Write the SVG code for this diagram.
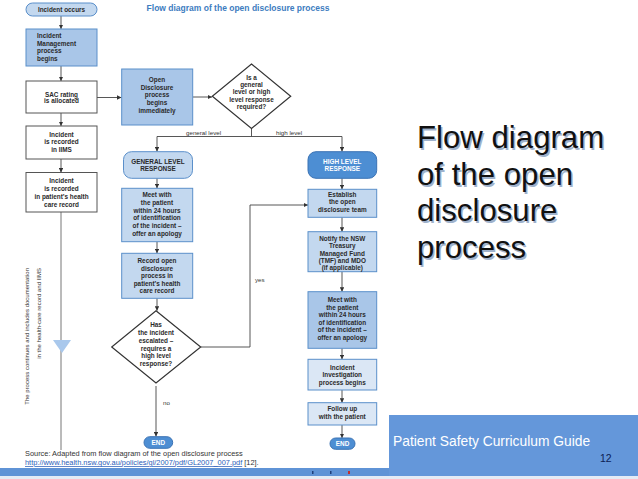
<svg xmlns="http://www.w3.org/2000/svg" width="638" height="479" viewBox="0 0 638 479">
<defs>
<style>
.t{font-family:"Liberation Sans",Arial,sans-serif;font-size:6.4px;font-weight:bold;fill:#2a2a2a;text-anchor:middle}
.tl{text-anchor:start}
.tw{fill:#ffffff}
.mid{fill:#a9c6e8;stroke:#5a8fca;stroke-width:1}
.lt{fill:#c3d8ef;stroke:#5a8fca;stroke-width:1}
.pale{fill:#dbe7f5;stroke:#5a8fca;stroke-width:1}
.wb{fill:#ffffff;stroke:#555555;stroke-width:1}
.dk{fill:#4d8ed3;stroke:#3a72b4;stroke-width:1}
.dia{fill:#ffffff;stroke:#333333;stroke-width:1.2}
.c{fill:none;stroke:#444444;stroke-width:0.9}
.lab{font-family:"Liberation Sans",Arial,sans-serif;font-size:6.2px;fill:#333333}
.big{font-family:"Liberation Sans",Arial,sans-serif;font-size:31.2px;fill:#111111}
.bigs{font-family:"Liberation Sans",Arial,sans-serif;font-size:31.2px;fill:#9fb2cc}
.src{font-family:"Liberation Sans",Arial,sans-serif;font-size:7.4px;fill:#333333}
</style>
<marker id="ah" viewBox="0 0 6 6" refX="6" refY="3" markerWidth="4.5" markerHeight="4.5" markerUnits="userSpaceOnUse" orient="auto">
<path d="M0,0 L6,3 L0,6 z" fill="#333333"/>
</marker>
</defs>
<rect x="0" y="0" width="638" height="479" fill="#ffffff"/>

<!-- title of embedded diagram -->
<text x="238" y="11" style="font-family:'Liberation Sans',Arial,sans-serif;font-size:8.5px;font-weight:bold;fill:#3d7cc0;text-anchor:middle">Flow diagram of the open disclosure process</text>

<g id="connectors">
<path class="c" d="M61,16 V29" marker-end="url(#ah)"/>
<path class="c" d="M61,66 V81" marker-end="url(#ah)"/>
<path class="c" d="M97,97.5 H121.5" marker-end="url(#ah)"/>
<path class="c" d="M61,113 V126" marker-end="url(#ah)"/>
<path class="c" d="M61,159 V172.5" marker-end="url(#ah)"/>
<path class="c" d="M61,212 V450" style="stroke:#666666"/>
<path class="c" d="M193,97 H212" marker-end="url(#ah)"/>
<path class="c" d="M251.5,128.5 V136.5 M157,136.5 H342"/>
<path class="c" d="M157,136.5 V151.5" marker-end="url(#ah)"/>
<path class="c" d="M342,136.5 V151.5" marker-end="url(#ah)"/>
<path class="c" d="M157,178.3 V188.3" marker-end="url(#ah)"/>
<path class="c" d="M157,241.7 V253.3" marker-end="url(#ah)"/>
<path class="c" d="M157,298.3 V310.7" marker-end="url(#ah)"/>
<path class="c" d="M200.7,347 H250 V205 H308" marker-end="url(#ah)"/>
<path class="c" d="M156,386 V436.5" marker-end="url(#ah)"/>
<path class="c" d="M342,178.3 V189.3" marker-end="url(#ah)"/>
<path class="c" d="M342,217.3 V231.7" marker-end="url(#ah)"/>
<path class="c" d="M342,271.7 V291.7" marker-end="url(#ah)"/>
<path class="c" d="M342,348.3 V359.3" marker-end="url(#ah)"/>
<path class="c" d="M342,390 V402.7" marker-end="url(#ah)"/>
<path class="c" d="M342,425 V438" marker-end="url(#ah)"/>
<text class="lab" x="186" y="134.5">general level</text>
<text class="lab" x="276" y="134.5">high level</text>
<text class="lab" x="255" y="282">yes</text>
<text class="lab" x="163" y="405">no</text>
<polygon points="53,340 71,340 62,353" fill="#a9c8ec"/>
</g>

<g id="incident-occurs">
<rect class="lt" x="26" y="3" width="71" height="13" rx="6.5"/>
<text class="t" x="61.5" y="11.8">Incident occurs</text>
</g>
<g id="incident-management">
<rect class="mid" x="26" y="29" width="71" height="37"/>
<text class="t tl" x="37" y="38">Incident</text>
<text class="t tl" x="37" y="45.6">Management</text>
<text class="t tl" x="37" y="53.3">process</text>
<text class="t tl" x="37" y="60.6">begins</text>
</g>
<g id="sac-rating">
<rect class="wb" x="26" y="81" width="71" height="32"/>
<text class="t" x="61.5" y="96.6">SAC rating</text>
<text class="t" x="61.5" y="103.3">is allocated</text>
</g>
<g id="recorded-iims">
<rect class="wb" x="26" y="126" width="71" height="33"/>
<text class="t" x="61.5" y="137.3">Incident</text>
<text class="t" x="61.5" y="144">is recorded</text>
<text class="t" x="61.5" y="152.3">in IIMS</text>
</g>
<g id="recorded-health">
<rect class="wb" x="26" y="172.5" width="71" height="39.5"/>
<text class="t" x="61.5" y="183">Incident</text>
<text class="t" x="61.5" y="190.6">is recorded</text>
<text class="t" x="61.5" y="199">in patient’s health</text>
<text class="t" x="61.5" y="206.6">care record</text>
</g>
<g id="continues-note">
<text class="lab" style="font-size:6px;text-anchor:end" transform="translate(29,268) rotate(-90)">The process continues and includes documentation</text>
<text class="lab" style="font-size:6px;text-anchor:end" transform="translate(41,268) rotate(-90)">in the health-care record and IIMS</text>
</g>

<g id="open-disclosure-begins">
<rect class="mid" x="121.7" y="69" width="71" height="56"/>
<text class="t" x="157" y="82.3">Open</text>
<text class="t" x="157" y="89.6">Disclosure</text>
<text class="t" x="157" y="97.3">process</text>
<text class="t" x="157" y="105">begins</text>
<text class="t" x="157" y="112.6">immediately</text>
</g>
<g id="level-decision">
<polygon class="dia" points="251.5,64 290.7,96.3 251.5,128.5 212.3,96.3"/>
<text class="t" x="251.5" y="79.6">Is a</text>
<text class="t" x="251.5" y="86.6">general</text>
<text class="t" x="251.5" y="94">level or high</text>
<text class="t" x="251.5" y="101.6">level response</text>
<text class="t" x="251.5" y="109.3">required?</text>
</g>

<g id="general-response">
<rect class="lt" x="123.5" y="151.7" width="69" height="26.6" rx="8"/>
<text class="t" x="158" y="164">GENERAL LEVEL</text>
<text class="t" x="158" y="171.3">RESPONSE</text>
</g>
<g id="general-meet">
<rect class="lt" x="121.7" y="188.3" width="71" height="53.4"/>
<text class="t" x="157" y="197.3">Meet with</text>
<text class="t" x="157" y="205">the patient</text>
<text class="t" x="157" y="212.6">within 24 hours</text>
<text class="t" x="157" y="220.3">of identification</text>
<text class="t" x="157" y="228">of the incident –</text>
<text class="t" x="157" y="235.6">offer an apology</text>
</g>
<g id="general-record">
<rect class="lt" x="121.7" y="253.3" width="71" height="45"/>
<text class="t" x="157" y="263">Record open</text>
<text class="t" x="157" y="270.6">disclosure</text>
<text class="t" x="157" y="278.3">process in</text>
<text class="t" x="157" y="285.6">patient’s health</text>
<text class="t" x="157" y="293.3">care record</text>
</g>
<g id="escalated-decision">
<polygon class="dia" points="156,310.7 200.7,347 156,383 111.7,347"/>
<text class="t" x="156" y="327.3">Has</text>
<text class="t" x="156" y="335">the incident</text>
<text class="t" x="156" y="342.6">escalated –</text>
<text class="t" x="156" y="350.6">requires a</text>
<text class="t" x="156" y="358.3">high level</text>
<text class="t" x="156" y="365.6">response?</text>
</g>
<g id="end-general">
<rect class="dk" x="144" y="436.7" width="28.7" height="11.6" rx="5.8"/>
<text class="t tw" x="158.3" y="444.8">END</text>
</g>

<g id="high-response">
<rect class="dk" x="308" y="151.7" width="68.7" height="26.6" rx="8"/>
<text class="t tw" x="342.3" y="164">HIGH LEVEL</text>
<text class="t tw" x="342.3" y="171.3">RESPONSE</text>
</g>
<g id="establish-team">
<rect class="lt" x="308" y="189.3" width="68.7" height="28"/>
<text class="t" x="342.3" y="197.3">Establish</text>
<text class="t" x="342.3" y="204">the open</text>
<text class="t" x="342.3" y="211.6">disclosure team</text>
</g>
<g id="notify-tmf">
<rect class="lt" x="308" y="231.7" width="68.7" height="40"/>
<text class="t" x="342.3" y="241.3">Notify the NSW</text>
<text class="t" x="342.3" y="248.3">Treasury</text>
<text class="t" x="342.3" y="255.6">Managed Fund</text>
<text class="t" x="342.3" y="263">(TMF) and MDO</text>
<text class="t" x="342.3" y="270">(if applicable)</text>
</g>
<g id="high-meet">
<rect class="mid" x="308" y="291.7" width="68.7" height="56.6"/>
<text class="t" x="342.3" y="302.3">Meet with</text>
<text class="t" x="342.3" y="309.6">the patient</text>
<text class="t" x="342.3" y="317.3">within 24 hours</text>
<text class="t" x="342.3" y="325">of identification</text>
<text class="t" x="342.3" y="332.3">of the incident –</text>
<text class="t" x="342.3" y="340">offer an apology</text>
</g>
<g id="investigation">
<rect class="pale" x="308" y="359.3" width="68.7" height="30.7"/>
<text class="t" x="342.3" y="369.6">Incident</text>
<text class="t" x="342.3" y="377.3">Investigation</text>
<text class="t" x="342.3" y="385">process begins</text>
</g>
<g id="follow-up">
<rect class="pale" x="308" y="402.7" width="68.7" height="22.3"/>
<text class="t" x="342.3" y="410.6">Follow up</text>
<text class="t" x="342.3" y="419">with the patient</text>
</g>
<g id="end-high">
<rect class="dk" x="330" y="438" width="25" height="11.3" rx="5.6"/>
<text class="t tw" x="342.5" y="446">END</text>
</g>

<g id="source">
<text class="src" x="25" y="456">Source: Adapted from flow diagram of the open disclosure process</text>
<text class="src" x="25" y="465"><tspan fill="#2a5db8" text-decoration="underline">http://www.health.nsw.gov.au/policies/gl/2007/pdf/GL2007_007.pdf</tspan> [12].</text>
</g>

<g id="footer">
<rect x="0" y="468" width="390" height="8" fill="#5f93d6"/>
<rect x="0" y="476" width="638" height="3" fill="#e4ebf5"/>
<rect x="389" y="415" width="249" height="61" fill="#6497da"/>
<rect x="312" y="471" width="1.5" height="3" fill="#1f3f7a"/>
<rect x="330" y="471" width="1.5" height="3" fill="#1f3f7a"/>
<rect x="348" y="471" width="2" height="3" fill="#c03030"/>
<text x="393" y="446" style="font-family:'Liberation Sans',Arial,sans-serif;font-size:13.8px;fill:#ffffff">Patient Safety Curriculum Guide</text>
<text x="600" y="462" style="font-family:'Liberation Sans',Arial,sans-serif;font-size:10.5px;fill:#0c1d52">12</text>
</g>

<g id="slide-title">
<text class="bigs" x="418.5" y="149.5">Flow diagram</text>
<text class="bigs" x="418.5" y="186.5">of the open</text>
<text class="bigs" x="418.5" y="222.5">disclosure</text>
<text class="bigs" x="418.5" y="259.5">process</text>
<text class="big" x="417" y="148">Flow diagram</text>
<text class="big" x="417" y="185">of the open</text>
<text class="big" x="417" y="221">disclosure</text>
<text class="big" x="417" y="258">process</text>
</g>
</svg>
